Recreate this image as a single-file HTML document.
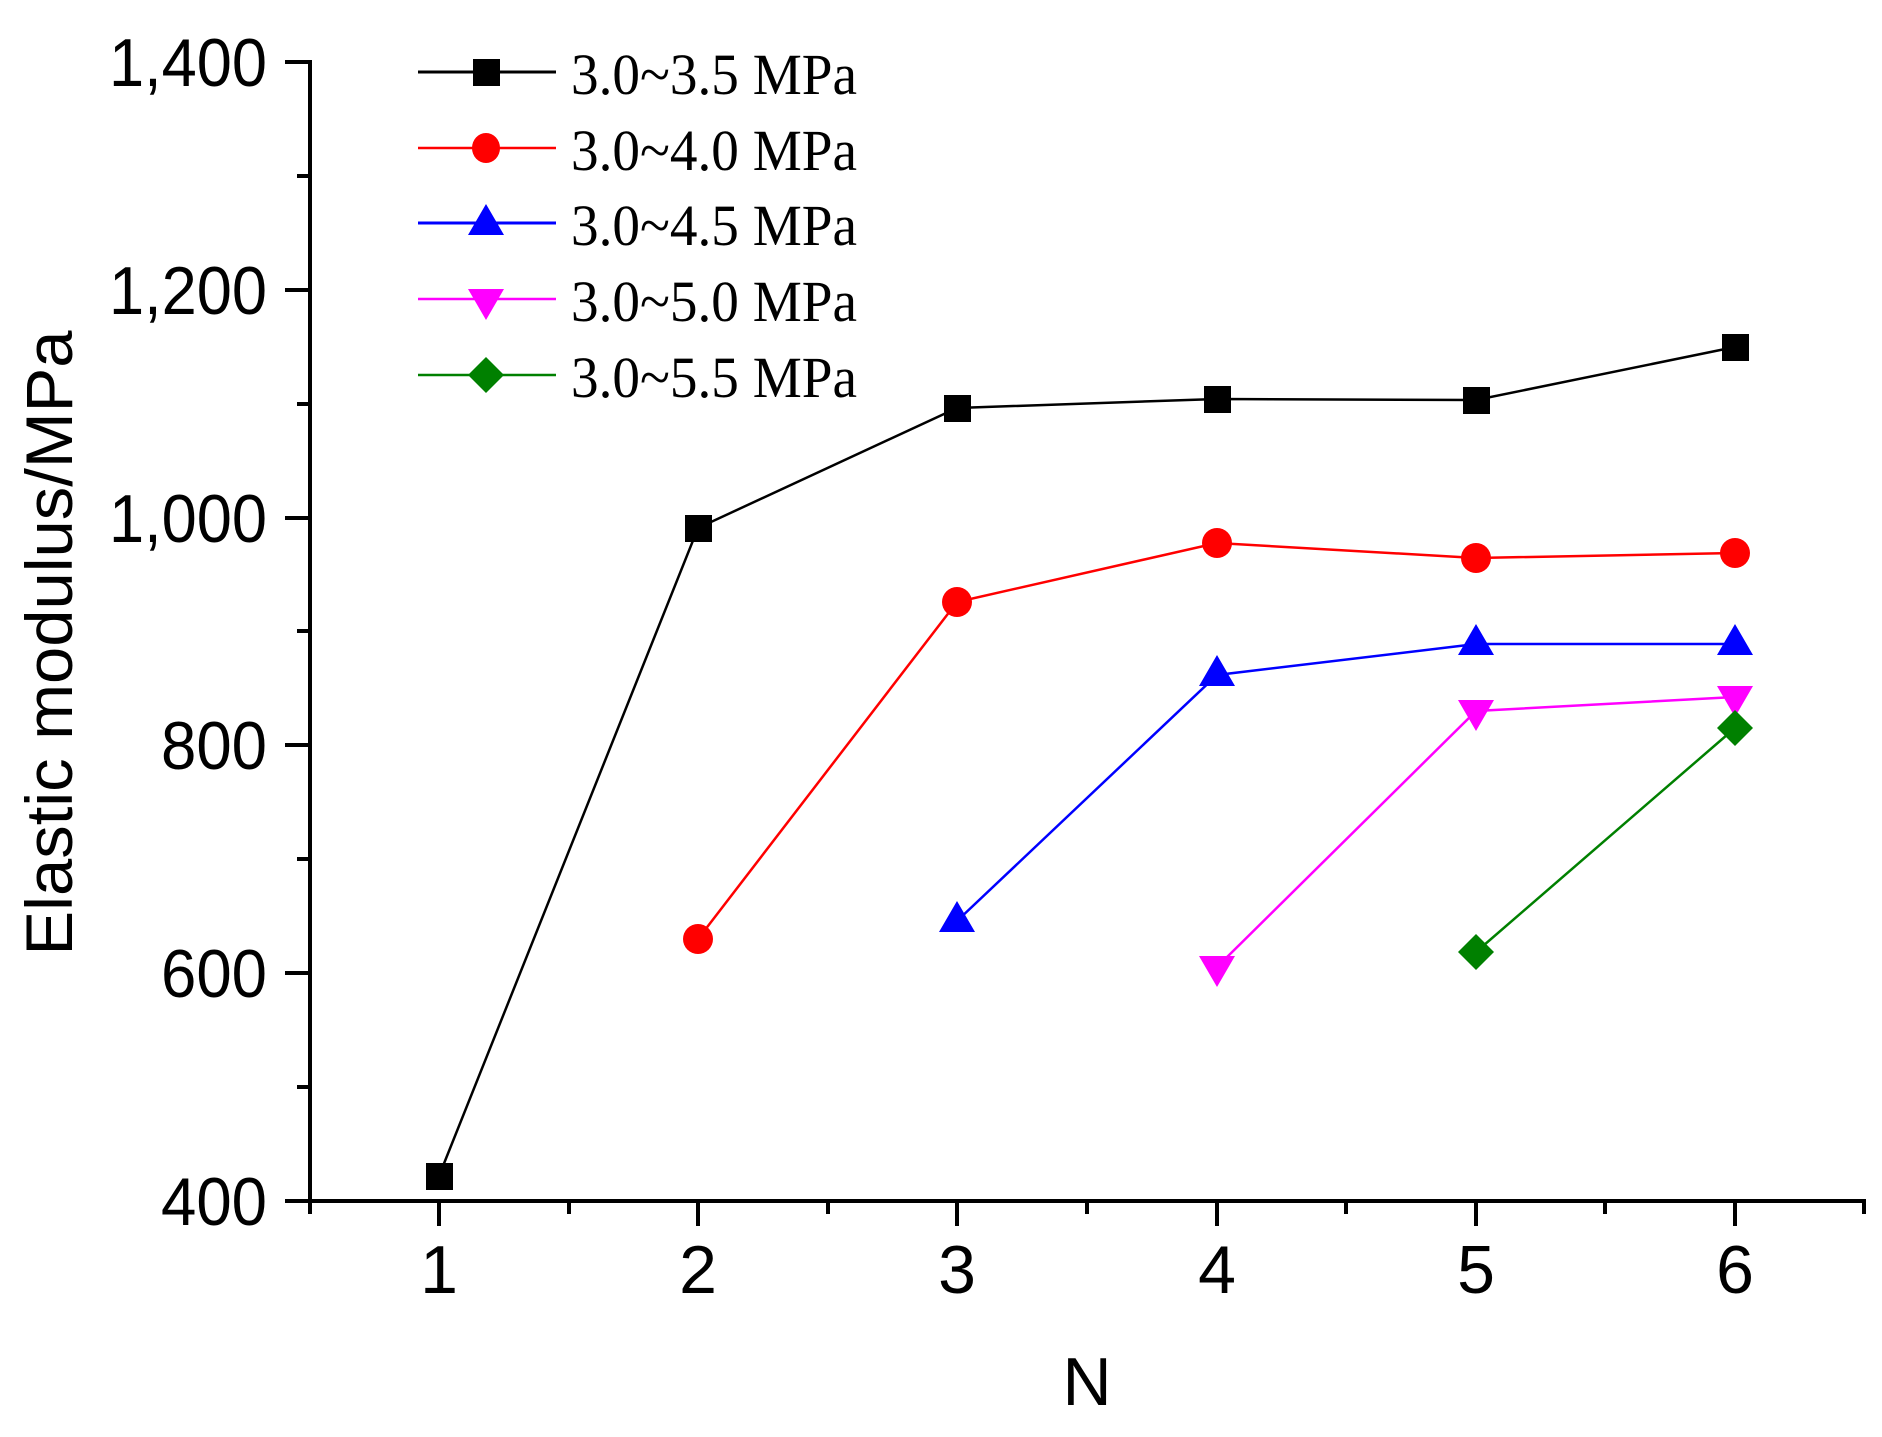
<!DOCTYPE html>
<html><head><meta charset="utf-8"><style>html,body{margin:0;padding:0;background:#fff}svg{display:block}</style></head>
<body>
<svg width="1882" height="1437" viewBox="0 0 1882 1437" xmlns="http://www.w3.org/2000/svg">
<rect width="1882" height="1437" fill="#fff"/>
<g stroke="#000" stroke-width="4" fill="none">
<line x1="310" y1="60" x2="310" y2="1203"/>
<line x1="308" y1="1201" x2="1866" y2="1201"/>
<line x1="285" y1="62" x2="310" y2="62"/>
<line x1="285" y1="290" x2="310" y2="290"/>
<line x1="285" y1="518" x2="310" y2="518"/>
<line x1="285" y1="745" x2="310" y2="745"/>
<line x1="285" y1="973" x2="310" y2="973"/>
<line x1="285" y1="1201" x2="310" y2="1201"/>
<line x1="297" y1="176" x2="310" y2="176"/>
<line x1="297" y1="404" x2="310" y2="404"/>
<line x1="297" y1="631" x2="310" y2="631"/>
<line x1="297" y1="859" x2="310" y2="859"/>
<line x1="297" y1="1087" x2="310" y2="1087"/>
<line x1="439" y1="1201" x2="439" y2="1226"/>
<line x1="698" y1="1201" x2="698" y2="1226"/>
<line x1="957" y1="1201" x2="957" y2="1226"/>
<line x1="1217" y1="1201" x2="1217" y2="1226"/>
<line x1="1476" y1="1201" x2="1476" y2="1226"/>
<line x1="1735" y1="1201" x2="1735" y2="1226"/>
<line x1="310" y1="1201" x2="310" y2="1214"/>
<line x1="569" y1="1201" x2="569" y2="1214"/>
<line x1="828" y1="1201" x2="828" y2="1214"/>
<line x1="1087" y1="1201" x2="1087" y2="1214"/>
<line x1="1346" y1="1201" x2="1346" y2="1214"/>
<line x1="1605" y1="1201" x2="1605" y2="1214"/>
<line x1="1864" y1="1201" x2="1864" y2="1214"/>
</g>
<g font-family="Liberation Sans, Arial, sans-serif" font-size="68" fill="#000" text-anchor="end">
<text x="267" y="86" textLength="158" lengthAdjust="spacingAndGlyphs">1,400</text>
<text x="267" y="314" textLength="158" lengthAdjust="spacingAndGlyphs">1,200</text>
<text x="267" y="542" textLength="158" lengthAdjust="spacingAndGlyphs">1,000</text>
<text x="267" y="769" textLength="106" lengthAdjust="spacingAndGlyphs">800</text>
<text x="267" y="997" textLength="106" lengthAdjust="spacingAndGlyphs">600</text>
<text x="267" y="1225" textLength="106" lengthAdjust="spacingAndGlyphs">400</text>
</g>
<g font-family="Liberation Sans, Arial, sans-serif" font-size="68" fill="#000" text-anchor="middle">
<text x="439" y="1293">1</text>
<text x="698" y="1293">2</text>
<text x="957" y="1293">3</text>
<text x="1217" y="1293">4</text>
<text x="1476" y="1293">5</text>
<text x="1735" y="1293">6</text>
<text x="1087" y="1405" font-size="68">N</text>
<text transform="translate(72,643) rotate(-90)" font-size="66" textLength="625" lengthAdjust="spacingAndGlyphs">Elastic modulus/MPa</text>
</g>
<polyline fill="none" stroke="#000" stroke-width="2.5" points="439,1176 698,528 957,408 1217,399 1476,400 1735,347"/>
<polyline fill="none" stroke="#f00" stroke-width="2.5" points="698,939 957,602 1217,543 1476,558 1735,553"/>
<polyline fill="none" stroke="#00f" stroke-width="2.5" points="957,921 1217,675 1476,644 1735,644"/>
<polyline fill="none" stroke="#f0f" stroke-width="2.5" points="1217,967 1476,711 1735,697"/>
<polyline fill="none" stroke="#008000" stroke-width="2.5" points="1476,952 1735,728"/>
<g fill="#000">
<rect x="426" y="1163" width="27" height="27"/><rect x="685" y="515" width="27" height="27"/><rect x="944" y="395" width="27" height="27"/><rect x="1204" y="386" width="27" height="27"/><rect x="1463" y="387" width="27" height="27"/><rect x="1722" y="334" width="27" height="27"/>
</g>
<g fill="#f00">
<circle cx="698" cy="939" r="15"/><circle cx="957" cy="602" r="15"/><circle cx="1217" cy="543" r="15"/><circle cx="1476" cy="558" r="15"/><circle cx="1735" cy="553" r="15"/>
</g>
<g fill="#00f">
<polygon points="957,901 975,932 939,932"/><polygon points="1217,655 1235,686 1199,686"/><polygon points="1476,624 1494,655 1458,655"/><polygon points="1735,624 1753,655 1717,655"/>
</g>
<g fill="#f0f">
<polygon points="1217,987 1235,956 1199,956"/><polygon points="1476,731 1494,700 1458,700"/><polygon points="1735,717 1753,686 1717,686"/>
</g>
<g fill="#008000">
<polygon points="1476,934 1494,952 1476,970 1458,952"/><polygon points="1735,710 1753,728 1735,746 1717,728"/>
</g>
<line x1="418" y1="72" x2="556" y2="72" stroke="#000" stroke-width="3"/>
<rect x="473" y="59" width="27" height="27" fill="#000"/>
<line x1="418" y1="148" x2="556" y2="148" stroke="#f00" stroke-width="2.5"/>
<ellipse cx="486" cy="148" rx="14" ry="15" fill="#f00"/>
<line x1="418" y1="223" x2="556" y2="223" stroke="#00f" stroke-width="3"/>
<polygon points="486,204 504,235 468,235" fill="#00f"/>
<line x1="418" y1="299" x2="556" y2="299" stroke="#f0f" stroke-width="2.5"/>
<polygon points="486,320 504,289 468,289" fill="#f0f"/>
<line x1="418" y1="375" x2="556" y2="375" stroke="#008000" stroke-width="2.5"/>
<polygon points="486,357 504,375 486,393 468,375" fill="#008000"/>
<g font-family="Liberation Serif, Times New Roman, serif" font-size="58" fill="#000">
<text x="571" y="94" textLength="286" lengthAdjust="spacingAndGlyphs">3.0~3.5 MPa</text>
<text x="571" y="170" textLength="286" lengthAdjust="spacingAndGlyphs">3.0~4.0 MPa</text>
<text x="571" y="245" textLength="286" lengthAdjust="spacingAndGlyphs">3.0~4.5 MPa</text>
<text x="571" y="321" textLength="286" lengthAdjust="spacingAndGlyphs">3.0~5.0 MPa</text>
<text x="571" y="397" textLength="286" lengthAdjust="spacingAndGlyphs">3.0~5.5 MPa</text>
</g>
</svg>
</body></html>
